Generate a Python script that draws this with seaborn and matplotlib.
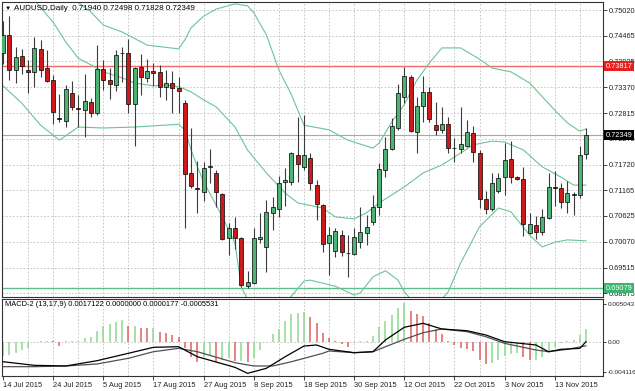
import matplotlib
matplotlib.use("Agg")
import matplotlib.pyplot as plt
import pandas as pd
import seaborn as sns

W, H = 635, 391

# AUDUSD daily candles, 14 Jul 2015 -> 20 Nov 2015 (one per trading day)
opens = [0.74102, 0.74486, 0.73738, 0.74037, 0.73738, 0.73696, 0.74187, 0.73781, 0.73525, 0.72713,
         0.72649, 0.73247, 0.72927, 0.72884, 0.73055, 0.72820, 0.73760, 0.73525, 0.73418, 0.74112,
         0.74102, 0.73012, 0.73802, 0.73568, 0.73717, 0.73696, 0.73375, 0.73461, 0.73354, 0.73034,
         0.71538, 0.71218, 0.71133, 0.71677, 0.71538, 0.71090, 0.70150, 0.70364, 0.70150, 0.69125,
         0.69189, 0.70139, 0.69958, 0.70684, 0.70769, 0.71346, 0.71346, 0.71923, 0.71666, 0.71859,
         0.71282, 0.70855, 0.70043, 0.69872, 0.70214, 0.69840, 0.69808, 0.70064, 0.70257, 0.70492,
         0.70812, 0.71602, 0.72051, 0.72500, 0.73162, 0.73589, 0.72414, 0.72969, 0.73268, 0.72564,
         0.72457, 0.72585, 0.72083, 0.72051, 0.72115, 0.72393, 0.71966, 0.70983, 0.70769, 0.71154,
         0.71453, 0.71837, 0.71453, 0.71410, 0.70257, 0.70428, 0.70278, 0.70577, 0.71229, 0.71218,
         0.70919, 0.71079, 0.71068, 0.71940]
highs = [0.74785, 0.74892, 0.74230, 0.74187, 0.73952, 0.74443, 0.74379, 0.74166, 0.73632, 0.73226,
         0.73418, 0.73503, 0.73204, 0.73653, 0.73140, 0.74272, 0.73952, 0.73781, 0.74166, 0.74230,
         0.74401, 0.73802, 0.74080, 0.73973, 0.73888, 0.73845, 0.73738, 0.73717, 0.73589, 0.73098,
         0.72500, 0.71795, 0.71773, 0.72051, 0.71602, 0.71111, 0.70470, 0.70598, 0.70171, 0.69445,
         0.70364, 0.70684, 0.70962, 0.71026, 0.71474, 0.71645, 0.71987, 0.72735, 0.72777, 0.71966,
         0.71389, 0.70876, 0.70385, 0.70364, 0.70321, 0.70214, 0.70364, 0.70812, 0.70641, 0.71068,
         0.71752, 0.72307, 0.72713, 0.73439, 0.73802, 0.73632, 0.73162, 0.73610, 0.73375, 0.73055,
         0.72948, 0.72735, 0.72286, 0.72948, 0.72670, 0.72542, 0.72030, 0.71154, 0.71538, 0.71538,
         0.72179, 0.72222, 0.71474, 0.71666, 0.70684, 0.70620, 0.70769, 0.71538, 0.71581, 0.71325,
         0.71367, 0.71133, 0.72115, 0.72498]
lows = [0.73867, 0.73525, 0.73461, 0.73653, 0.73247, 0.73375, 0.73589, 0.73482, 0.72585, 0.72628,
        0.72521, 0.72884, 0.72521, 0.72307, 0.72735, 0.72777, 0.73311, 0.73119, 0.73290, 0.73482,
        0.72820, 0.72115, 0.73204, 0.73482, 0.73397, 0.73162, 0.73098, 0.72820, 0.72820, 0.70364,
        0.71218, 0.70684, 0.70940, 0.71325, 0.70812, 0.70107, 0.69787, 0.69915, 0.69103, 0.69082,
        0.69167, 0.70043, 0.69424, 0.70321, 0.70598, 0.70834, 0.71282, 0.71346, 0.71602, 0.71175,
        0.70534, 0.69851, 0.69360, 0.69744, 0.69765, 0.69317, 0.69787, 0.69936, 0.70000, 0.70428,
        0.70641, 0.71453, 0.72030, 0.72457, 0.73034, 0.72414, 0.71966, 0.72628, 0.72628, 0.72350,
        0.72393, 0.71966, 0.71773, 0.71966, 0.72094, 0.71773, 0.70791, 0.70663, 0.70727, 0.71111,
        0.71068, 0.71325, 0.71389, 0.70193, 0.70235, 0.70129, 0.70214, 0.70556, 0.70834, 0.70791,
        0.70684, 0.70641, 0.71004, 0.71828]
closes = [0.74486, 0.73738, 0.74016, 0.73824, 0.73696, 0.74208, 0.73738, 0.73503, 0.72841, 0.72692,
          0.73333, 0.72948, 0.72905, 0.73076, 0.72820, 0.73760, 0.73525, 0.73439, 0.74059, 0.74102,
          0.73012, 0.73781, 0.73589, 0.73717, 0.73685, 0.73375, 0.73461, 0.73354, 0.73290, 0.71517,
          0.71261, 0.71197, 0.71645, 0.71688, 0.71133, 0.70129, 0.70364, 0.70150, 0.69146, 0.69210,
          0.70150, 0.70161, 0.70705, 0.70812, 0.71325, 0.71389, 0.71966, 0.71731, 0.71923, 0.71325,
          0.70876, 0.70022, 0.70214, 0.70299, 0.69851, 0.69830, 0.70171, 0.70278, 0.70385, 0.70812,
          0.71624, 0.72051, 0.72542, 0.73247, 0.73610, 0.72435, 0.72969, 0.73268, 0.72692, 0.72457,
          0.72585, 0.72072, 0.72072, 0.72158, 0.72414, 0.71987, 0.70983, 0.70769, 0.71325, 0.71432,
          0.71816, 0.71453, 0.71410, 0.70449, 0.70449, 0.70278, 0.70598, 0.71239, 0.71218, 0.70919,
          0.71111, 0.71090, 0.71923, 0.72349]

date_labels = ["14 Jul 2015", "24 Jul 2015", "5 Aug 2015", "17 Aug 2015", "27 Aug 2015", "8 Sep 2015",
               "18 Sep 2015", "30 Sep 2015", "12 Oct 2015", "22 Oct 2015", "3 Nov 2015", "13 Nov 2015"]
price_ticks = [0.75020, 0.74465, 0.73925, 0.73370, 0.72815, 0.72275,
               0.71720, 0.71165, 0.70625, 0.70070, 0.69515, 0.68975]
resist_level = 0.73817
support_level = 0.69079
last_price = 0.72349

# Bollinger bands at sample bars
bb_upper_bar = [11, 14, 16, 19, 23, 28, 29, 30, 32, 34, 37, 39, 40, 42, 44, 46, 48, 52, 55, 59,
                60, 62, 64, 66, 68, 70, 73, 76, 78, 81, 84, 88, 90, 92, 93]
bb_upper = [0.7528, 0.7498, 0.7470, 0.7455, 0.7427, 0.7419, 0.7438, 0.7464, 0.7489, 0.7504,
            0.7515, 0.7511, 0.7496, 0.7449, 0.7374, 0.7321, 0.7256, 0.7246, 0.7224, 0.7207,
            0.7218, 0.7263, 0.7300, 0.7352, 0.7389, 0.7421, 0.7421, 0.7397, 0.7378, 0.7370,
            0.7346, 0.7288, 0.7261, 0.7243, 0.7248]
bb_mid_bar = [0, 5, 8, 10, 12, 14, 16, 19, 21, 24, 26, 28, 29, 30, 32, 34, 37, 39, 42, 45,
              47, 51, 53, 56, 58, 60, 64, 67, 70, 72, 75, 78, 80, 83, 86, 89, 91, 93]
bb_mid = [0.7600, 0.7523, 0.7476, 0.7434, 0.7399, 0.7385, 0.7370, 0.7357, 0.7346, 0.7340,
          0.7342, 0.7338, 0.7333, 0.7327, 0.7310, 0.7295, 0.7252, 0.7203, 0.7154, 0.7111,
          0.7090, 0.7079, 0.7060, 0.7056, 0.7069, 0.7090, 0.7124, 0.7154, 0.7171, 0.7188,
          0.7214, 0.7222, 0.7220, 0.7203, 0.7167, 0.7145, 0.7128, 0.7128]
bb_low_bar = [0, 3, 6, 9, 12, 16, 21, 28, 29, 30, 31, 32, 35, 37, 38, 40, 43, 46, 48, 49,
              53, 56, 57, 59, 61, 63, 64, 66, 69, 71, 73, 76, 79, 81, 84, 86, 88, 90, 93]
bb_low = [0.7340, 0.7303, 0.7256, 0.7224, 0.7252, 0.7250, 0.7252, 0.7258, 0.7246, 0.7203,
          0.7167, 0.7135, 0.7060, 0.7004, 0.6910, 0.6860, 0.6850, 0.6891, 0.6923, 0.6925,
          0.6912, 0.6893, 0.6898, 0.6932, 0.6945, 0.6925, 0.6900, 0.6870, 0.6870, 0.6900,
          0.6962, 0.7039, 0.7079, 0.7071, 0.7021, 0.6996, 0.7006, 0.7011, 0.7009]

# MACD-2 (13,17,9) histogram, one value per bar
macd_hist = [-0.00191, -0.00178, -0.00147, -0.00111, -0.00090, -0.00004, 0.00004, 0.00007, 0.00004, -0.00054,
             0.00003, 0.00004, 0.00007, 0.00054, 0.00067, 0.00147, 0.00210, 0.00231, 0.00268, 0.00290,
             0.00210, 0.00210, 0.00187, 0.00178, 0.00178, 0.00134, 0.00120, 0.00090, 0.00067, -0.00090,
             -0.00201, -0.00268, -0.00201, -0.00174, -0.00268, -0.00245, -0.00221, -0.00261, -0.00261, -0.00274,
             -0.00221, -0.00111, -0.00010, 0.00103, 0.00165, 0.00277, 0.00371, 0.00388, 0.00401, 0.00334,
             0.00245, 0.00111, 0.00044, 0.00003, -0.00031, -0.00067, -0.00013, 0.00003, 0.00013, 0.00076,
             0.00201, 0.00277, 0.00357, 0.00446, 0.00522, 0.00415, 0.00371, 0.00344, 0.00245, 0.00165,
             0.00103, 0.00003, -0.00044, -0.00090, -0.00103, -0.00124, -0.00245, -0.00298, -0.00281, -0.00245,
             -0.00191, -0.00165, -0.00147, -0.00201, -0.00245, -0.00245, -0.00201, -0.00134, -0.00067, -0.00013,
             0.00003, 0.00023, 0.00090, 0.00171]
macd_main_bar = [0, 5, 10, 15, 20, 24, 28, 31, 37, 39, 42, 45, 48, 50, 52, 56, 59, 61, 64, 67,
                 70, 74, 77, 80, 85, 87, 89, 92, 93]
macd_main = [-0.00268, -0.00316, -0.00325, -0.00254, -0.00155, -0.00075, -0.00067, -0.00201, -0.00343, -0.00423,
             -0.00356, -0.00201, -0.00058, -0.00044, -0.00102, -0.00147, -0.00134, 0.00023, 0.00193, 0.00246,
             0.00170, 0.00147, 0.00090, 0.00000, -0.00044, -0.00134, -0.00102, -0.00089, 0.0000177]
macd_sig_bar = [0, 5, 10, 15, 20, 24, 28, 31, 37, 40, 43, 46, 51, 52, 56, 59, 61, 64, 67, 70,
                74, 77, 80, 85, 87, 90, 93]
macd_sig = [-0.00334, -0.00334, -0.00325, -0.00298, -0.00222, -0.00134, -0.00089, -0.00134, -0.00281, -0.00325,
            -0.00325, -0.00268, -0.00155, -0.00124, -0.00147, -0.00134, -0.00067, 0.00032, 0.00120, 0.00170,
            0.00134, 0.00067, -0.00022, -0.00111, -0.00134, -0.00102, -0.00055]
macd_ticks = [0.005043, 0.0, -0.004116]
macd_tick_labels = ["0.005043", "0.00", "-0.004116"]

sns.set_theme(style="white")
plt.rcParams['font.family'] = ['Liberation Sans', 'DejaVu Sans']

GREEN = "#4db375"
RED = "#cc1a1a"
BAND = "#6cc494"
GRID = "#b4b4b4"
FS = 5.3


def fx(px):
    return px / W


def fy(py):
    return 1 - py / H


fig = plt.figure(figsize=(W / 100, H / 100), dpi=100)
ax = fig.add_axes([fx(2), fy(297), 601 / W, 295 / H])
ax2 = fig.add_axes([fx(2), fy(376), 601 / W, 77 / H])

xlim = (-0.16, 95.69)
n = len(closes)
bars = list(range(n))
label_bars = list(range(0, n, 8))
grid_bars = list(range(4, n + 2, 4))

# --- main price panel
for a in (ax, ax2):
    a.set_facecolor("white")
    a.set_xlim(*xlim)
    for b in grid_bars:
        a.axvline(b, color=GRID, lw=0.5, ls=(0, (2.5, 2.5)), zorder=0)
    for s in a.spines.values():
        s.set_color("#333333")
        s.set_linewidth(0.8)

for p in price_ticks:
    ax.axhline(p, color=GRID, lw=0.5, ls=(0, (2.5, 2.5)), zorder=0)

ax.axhline(resist_level, color="#f06a6a", lw=1.0, zorder=1)
ax.axhline(support_level, color="#5cc08c", lw=1.0, zorder=1)
ax.axhline(last_price, color="#a8a8a8", lw=0.8, zorder=1)

sns.lineplot(x=bb_upper_bar, y=bb_upper, ax=ax, color=BAND, lw=0.8, estimator=None, zorder=2)
sns.lineplot(x=bb_mid_bar, y=bb_mid, ax=ax, color=BAND, lw=0.8, estimator=None, zorder=2)
sns.lineplot(x=bb_low_bar, y=bb_low, ax=ax, color=BAND, lw=0.8, estimator=None, zorder=2)

df = pd.DataFrame({"o": opens, "h": highs, "l": lows, "c": closes}, index=bars)
up = df["c"] >= df["o"]
ax.vlines(df.index, df["l"], df["h"], color="#3c3c3c", lw=0.8, zorder=3)
body_lo = df[["o", "c"]].min(axis=1)
body_h = (df["c"] - df["o"]).abs()
ax.bar(df.index, body_h, bottom=body_lo, width=0.64,
       color=[GREEN if u else RED for u in up], edgecolor="black", linewidth=0.5, zorder=4)

ax.set_ylim(0.68890, 0.75191)
ax.yaxis.tick_right()
ax.set_yticks(price_ticks)
ax.set_yticklabels([f"{p:.5f}" for p in price_ticks])
ax.tick_params(axis="y", right=True, length=3, width=0.6, pad=1.0, labelsize=FS, colors="#222222")
ax.set_xticks([])
ax.set_xlabel("")
ax.set_ylabel("")

# --- MACD panel
hist_cols = ["#8ed88e" if i == 0 or macd_hist[i] >= macd_hist[i - 1] else "#e06060" for i in range(n)]
ax2.axhline(0, color=GRID, lw=0.5, ls=(0, (2.5, 2.5)), zorder=0)
ax2.vlines(bars, 0, macd_hist, colors=hist_cols, lw=1.1, zorder=2)
sns.lineplot(x=macd_sig_bar, y=macd_sig, ax=ax2, color="#505050", lw=0.9, estimator=None, zorder=3)
sns.lineplot(x=macd_main_bar, y=macd_main, ax=ax2, color="black", lw=0.9, estimator=None, zorder=3)
ax2.set_ylim(-0.004589, 0.005713)
ax2.yaxis.tick_right()
ax2.set_yticks(macd_ticks)
ax2.set_yticklabels(macd_tick_labels)
ax2.tick_params(axis="y", right=True, length=2.5, width=0.6, pad=0.8, labelsize=4.6, colors="#222222")
ax2.set_xticks(label_bars)
ax2.set_xticklabels(date_labels)
ax2.tick_params(axis="x", bottom=True, length=3, width=0.6, pad=1.5, labelsize=FS + 0.1, colors="#222222")
for lbl in ax2.get_xticklabels():
    lbl.set_horizontalalignment("left")
ax2.set_xlabel("")
ax2.set_ylabel("")

# --- texts
fig.text(fx(5), fy(8), "\u25bc", fontsize=4.5, va="center", ha="left", color="black")
fig.text(fx(14), fy(8), "AUDUSD,Daily  0.71940 0.72498 0.71828 0.72349",
         fontsize=FS + 0.5, va="center", ha="left", color="black")
fig.text(fx(5), fy(305), "MACD-2 (13,17,9) 0.0017122 0.0000000 0.0000177 -0.0005531",
         fontsize=FS + 0.1, va="center", ha="left", color="black")

for val, fc in ((resist_level, "#e8201c"), (last_price, "black"), (support_level, "#3cb371")):
    ypx = 10 + (0.75020 - val) / 0.0002136
    fig.text(fx(605.5), fy(ypx), f"{val:.5f}", fontsize=FS, va="center", ha="left", color="white",
             bbox=dict(boxstyle="square,pad=0.2", fc=fc, ec="none"), zorder=10)

fig.savefig("out.png", dpi=100, facecolor="white")
